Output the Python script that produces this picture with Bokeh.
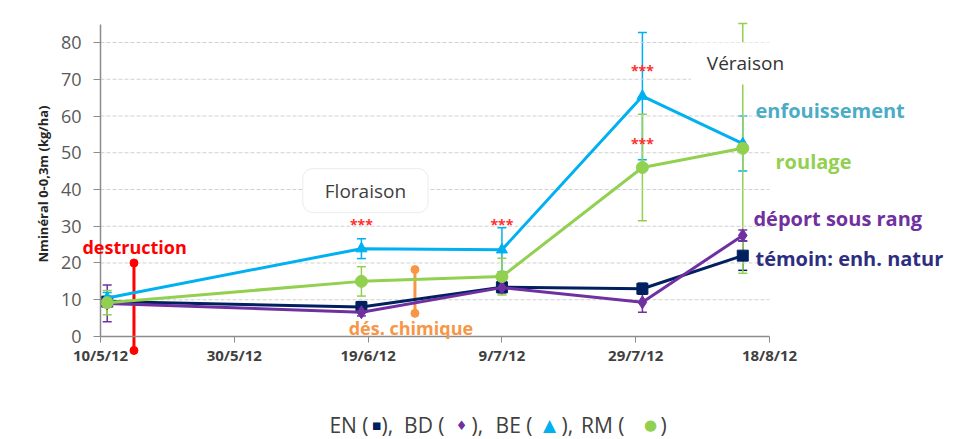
import numpy as np
import pandas as pd
from bokeh.plotting import figure
from bokeh.models import Range1d, FixedTicker, Label, Whisker, ColumnDataSource, TeeHead
from bokeh.embed import file_html
from bokeh.resources import INLINE

# ---------------- data ----------------
start_date = "2012-05-10"
dates = ["2012-05-11", "2012-06-18", "2012-07-09", "2012-07-30", "2012-08-14"]
tick_dates = ["2012-05-10", "2012-05-30", "2012-06-19", "2012-07-09", "2012-07-29", "2012-08-18"]
tick_labels = ["10/5/12", "30/5/12", "19/6/12", "9/7/12", "29/7/12", "18/8/12"]
y_ticks = [0, 10, 20, 30, 40, 50, 60, 70, 80]

en = [9.5, 8.0, 13.4, 13.0, 22.0]
en_err = [1.0, 1.5, 1.5, 1.5, 4.0]
bd = [9.0, 6.6, 13.3, 9.3, 27.5]
bd_err = [5.0, 1.0, 1.0, 2.7, 1.5]
be = [10.5, 23.9, 23.6, 65.4, 52.5]
be_err = [1.5, 2.7, 6.0, 17.3, 7.5]
rm = [9.2, 15.0, 16.3, 46.0, 51.2]
rm_err = [3.3, 4.0, 5.0, 14.5, 34.0]

event_dates = ["2012-05-15", "2012-06-26"]
event_low = [-3.8, 6.3]
event_high = [20.0, 18.2]
event_labels = ["destruction", "dés. chimique"]
event_colors = ["#ff0000", "#f79646"]

sig_dates = ["2012-06-18", "2012-07-09", "2012-07-30", "2012-07-30"]
sig_y = [30.5, 30.5, 72.4, 52.5]

series_labels = ["enfouissement", "roulage", "déport sous rang", "témoin: enh. natur"]

# ---------------- helpers ----------------
t0 = pd.Timestamp(start_date)
def days(lst):
    return [int((pd.Timestamp(d) - t0).days) for d in lst]

x = days(dates)
xt = days(tick_dates)

C_EN = "#002060"
C_BD = "#7030a0"
C_BE = "#00b0f0"
C_RM = "#92d050"
GRAY = "#595959"
AX = "#8c8c8c"
FONT = "Open Sans"

# the plotting frame covers the whole canvas; axes are placed at data 0
p = figure(width=956, height=439, output_backend="svg", toolbar_location=None,
           x_range=Range1d(-14.95, 127.95), y_range=Range1d(-28.03, 91.43),
           min_border=0)
p.outline_line_color = None
p.background_fill_color = "white"
p.border_fill_color = "white"
p.xgrid.visible = False
p.ygrid.visible = False

# axes
p.xaxis.ticker = FixedTicker(ticks=xt)
p.xaxis.major_label_overrides = {t: l for t, l in zip(xt, tick_labels)}
p.xaxis.fixed_location = 0
p.xaxis.bounds = (xt[0], xt[-1])
p.xaxis.major_tick_out = 6
p.xaxis.major_tick_in = 0
p.xaxis.minor_tick_line_color = None
p.xaxis.major_label_standoff = 3
p.xaxis.major_label_text_font = FONT
p.xaxis.major_label_text_font_style = "bold"
p.xaxis.major_label_text_font_size = "15px"
p.xaxis.major_label_text_color = "#404040"
p.xaxis.axis_line_color = AX
p.xaxis.axis_line_width = 1.5
p.xaxis.major_tick_line_color = AX

p.yaxis.ticker = FixedTicker(ticks=y_ticks)
p.yaxis.fixed_location = 0
p.yaxis.bounds = (0, 85)
p.yaxis.major_tick_out = 7
p.yaxis.major_tick_in = 0
p.yaxis.minor_tick_line_color = None
p.yaxis.major_label_standoff = 12
p.yaxis.major_label_text_font = FONT
p.yaxis.major_label_text_font_size = "18px"
p.yaxis.major_label_text_color = GRAY
p.yaxis.axis_line_color = AX
p.yaxis.axis_line_width = 1.5
p.yaxis.major_tick_line_color = AX

# horizontal dashed grid lines, spanning the date axis only
gy = y_ticks[1:]
p.segment(x0=[xt[0]] * len(gy), y0=gy, x1=[xt[-1]] * len(gy), y1=gy,
          line_color="#d0d0d0", line_dash="4 2", line_width=1)

# y axis title
p.add_layout(Label(x=-8.6, y=41.5, text="Nminéral 0-0,3m (kg/ha)", angle=np.pi / 2,
                   text_align="center", text_baseline="middle", text_font=FONT,
                   text_font_style="bold", text_font_size="13px", text_color="#262626"))

# event vertical bars
for d, lo, hi, lab, col in zip(days(event_dates), event_low, event_high, event_labels, event_colors):
    p.segment(x0=[d], y0=[lo], x1=[d], y1=[hi], line_color=col, line_width=3)
    p.scatter(x=[d, d], y=[lo, hi], marker="circle", size=8, fill_color=col, line_color=col)

# series
series = [
    (en, en_err, C_EN, "square", 11),
    (bd, bd_err, C_BD, "diamond", 13),
    (be, be_err, C_BE, "triangle", 11),
    (rm, rm_err, C_RM, "circle", 12),
]
for vals, err, col, mk, sz in series:
    src = ColumnDataSource(dict(x=x, y=vals,
                                upper=[v + e for v, e in zip(vals, err)],
                                lower=[v - e for v, e in zip(vals, err)]))
    w = Whisker(source=src, base="x", upper="upper", lower="lower",
                line_color=col, line_width=1.5,
                upper_head=TeeHead(size=9, line_color=col, line_width=1.5),
                lower_head=TeeHead(size=9, line_color=col, line_width=1.5))
    p.add_layout(w)
for vals, err, col, mk, sz in series:
    p.line(x=x, y=vals, line_color=col, line_width=3)
    p.scatter(x=x, y=vals, marker=mk, size=sz, fill_color=col, line_color=col)

# significance stars
for d, yv in zip(days(sig_dates), sig_y):
    p.add_layout(Label(x=d, y=yv, text="***", text_align="center", text_baseline="middle",
                       text_font=FONT, text_font_style="bold", text_font_size="14px",
                       text_color="#ff3030"))

# event labels
p.add_layout(Label(x=-2.7, y=24.3, text=event_labels[0], text_align="left", text_baseline="middle",
                   text_font=FONT, text_font_style="bold", text_font_size="18px",
                   text_color=event_colors[0]))
p.add_layout(Label(x=37.1, y=2.4, text=event_labels[1], text_align="left", text_baseline="middle",
                   text_font=FONT, text_font_style="bold", text_font_size="18px",
                   text_color=event_colors[1]))

# stage labels
p.add_layout(Label(x=39.6, y=39.7, text="Floraison", text_align="center", text_baseline="middle",
                   text_font=FONT, text_font_size="19px", text_color="#404040",
                   background_fill_color="white", border_line_color="#ececec",
                   border_radius=10, padding=dict(x=22, y=9)))
p.add_layout(Label(x=96.4, y=74.3, text="Véraison", text_align="center", text_baseline="middle",
                   text_font=FONT, text_font_size="19px", text_color="#333333",
                   background_fill_color="white", padding=dict(x=16, y=8)))

# series end labels
for lab, xx, yy, col in zip(series_labels, [97.9, 100.9, 97.6, 97.9], [61.5, 47.6, 32.1, 21.2],
                            ["#4bacc6", C_RM, C_BD, "#2e2e80"]):
    p.add_layout(Label(x=xx, y=yy, text=lab, text_align="left", text_baseline="middle",
                       text_font=FONT, text_font_style="bold", text_font_size="20px",
                       text_color=col))

# bottom legend line (text pieces and coloured symbols)
legend_parts = [
    ("EN (", 40.06, "right", "#404040", FONT, "21px"),
    ("▪", 41.26, "center", C_EN, "DejaVu Sans", "15px"),
    ("),", 42.0, "left", "#404040", FONT, "21px"),
    ("BD (", 51.42, "right", "#404040", FONT, "21px"),
    ("♦", 53.96, "center", C_BD, "DejaVu Sans", "13px"),
    ("),", 55.46, "left", "#404040", FONT, "21px"),
    ("BE (", 64.57, "right", "#404040", FONT, "21px"),
    ("▲", 67.11, "center", C_BE, "DejaVu Sans", "17px"),
    ("),", 68.91, "left", "#404040", FONT, "21px"),
    ("RM (", 78.33, "right", "#404040", FONT, "21px"),
    ("●", 82.21, "center", C_RM, "DejaVu Sans", "15px"),
    (")", 83.71, "left", "#404040", FONT, "21px"),
]
for txt, xx, al, col, fnt, fs in legend_parts:
    p.add_layout(Label(x=xx, y=-24.2, text=txt, text_align=al, text_baseline="middle",
                       text_font=fnt, text_font_size=fs, text_color=col))

open("out.html", "w").write(file_html(p, INLINE))
